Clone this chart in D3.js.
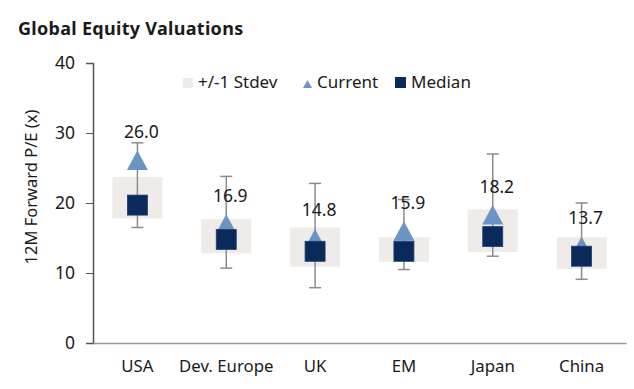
<!DOCTYPE html>
<html>
<head>
<meta charset="utf-8">
<script src="https://cdn.jsdelivr.net/npm/d3@7"></script>
<style>
  body { margin: 0; background: #fff; }
  text { font-family: "Noto Sans", "Open Sans", sans-serif; fill: #1a1a1a; }
</style>
</head>
<body>
<div class="root"></div>
<script>
// values
var categories = ['USA', 'Dev. Europe', 'UK', 'EM', 'Japan', 'China'];
var current    = [26.0, 16.9, 14.8, 15.9, 18.2, 13.7];
var median     = [19.7, 14.8, 13.1, 13.1, 15.2, 12.4];
var stdevLow   = [17.8, 12.8, 10.9, 11.6, 13.0, 10.6];
var stdevHigh  = [23.7, 17.7, 16.5, 15.1, 19.1, 15.1];
var rangeLow   = [16.5, 10.7, 7.9, 10.5, 12.4, 9.1];
var rangeHigh  = [28.6, 23.8, 22.8, 20.5, 27.0, 20.0];
var yTicks     = [0, 10, 20, 30, 40];

var w = 634, h = 389;

var rows = categories.map(function(c, i) {
  return { cat: c, cur: current[i], med: median[i], lo: stdevLow[i], hi: stdevHigh[i], min: rangeLow[i], max: rangeHigh[i] };
});

var svg = d3.select('.root').append('svg')
  .attr('width', w)
  .attr('height', h)
  .style('display', 'block');

var x = d3.scaleBand().domain(categories).range([93, 626]);
var y = d3.scaleLinear().domain([0, 40]).range([343, 63]);
var cx = function(d) { return x(d.cat) + x.bandwidth() / 2; };

// title
svg.append('text')
  .attr('x', 18).attr('y', 35)
  .style('font-weight', 'bold')
  .style('font-size', '18px')
  .style('letter-spacing', '0.3px')
  .text('Global Equity Valuations');

// axes
var yAxis = svg.append('g')
  .attr('transform', 'translate(93,0)')
  .call(d3.axisLeft(y).tickValues(yTicks).tickSize(7).tickPadding(11));
yAxis.select('.domain').attr('stroke', '#555').attr('stroke-width', 1.5);
yAxis.selectAll('.tick line').attr('stroke', '#555');
yAxis.selectAll('.tick text').style('font-size', '17.5px').attr('fill', '#1a1a1a').style('font-family', '"Noto Sans", sans-serif');

var xAxis = svg.append('g')
  .attr('transform', 'translate(0,343)')
  .call(d3.axisBottom(x).tickSize(0).tickPadding(17));
xAxis.select('.domain').attr('stroke', '#9a9a9a').attr('stroke-width', 1.5);
xAxis.selectAll('.tick text').style('font-size', '16.8px').attr('fill', '#1a1a1a').style('font-family', '"Noto Sans", sans-serif');

svg.append('text')
  .attr('transform', 'translate(37,187) rotate(-90)')
  .attr('text-anchor', 'middle')
  .style('font-size', '16.5px')
  .text('12M Forward P/E (x)');

// stdev boxes
svg.append('g').selectAll('rect')
  .data(rows).enter().append('rect')
  .attr('x', function(d) { return cx(d) - 25; })
  .attr('width', 50)
  .attr('y', function(d) { return y(d.hi); })
  .attr('height', function(d) { return y(d.lo) - y(d.hi); })
  .attr('fill', '#efebe8');

// whiskers
var wh = svg.append('g').attr('stroke', '#8c8c8c').attr('stroke-width', 1.5);
wh.selectAll('.v').data(rows).enter().append('line')
  .attr('x1', cx).attr('x2', cx)
  .attr('y1', function(d) { return y(d.max); })
  .attr('y2', function(d) { return y(d.min); });
wh.selectAll('.top').data(rows).enter().append('line')
  .attr('x1', function(d) { return cx(d) - 6; }).attr('x2', function(d) { return cx(d) + 6; })
  .attr('y1', function(d) { return y(d.max); }).attr('y2', function(d) { return y(d.max); });
wh.selectAll('.bot').data(rows).enter().append('line')
  .attr('x1', function(d) { return cx(d) - 6; }).attr('x2', function(d) { return cx(d) + 6; })
  .attr('y1', function(d) { return y(d.min); }).attr('y2', function(d) { return y(d.min); });

// current (triangle)
svg.append('g').selectAll('path')
  .data(rows).enter().append('path')
  .attr('d', 'M0,-10.5L10.5,9L-10.5,9Z')
  .attr('transform', function(d) { return 'translate(' + cx(d) + ',' + y(d.cur) + ')'; })
  .attr('fill', '#6b93c4');

// median (square)
svg.append('g').selectAll('rect')
  .data(rows).enter().append('rect')
  .attr('x', function(d) { return cx(d) - 10; })
  .attr('y', function(d) { return y(d.med) - 10; })
  .attr('width', 20).attr('height', 20)
  .attr('fill', '#0b2a5c')
  .attr('stroke', '#1f3f70').attr('stroke-width', 0.8);

// value labels
svg.append('g').selectAll('text')
  .data(rows).enter().append('text')
  .attr('x', function(d) { return cx(d) + 4; })
  .attr('y', function(d) { return y(d.cur) - 23; })
  .attr('text-anchor', 'middle')
  .style('font-size', '17.5px')
  .text(function(d) { return d.cur.toFixed(1); });

// legend
var lg = svg.append('g');
lg.append('rect').attr('x', 183).attr('y', 78).attr('width', 10).attr('height', 10).attr('fill', '#efebe8');
lg.append('text').attr('x', 198).attr('y', 88).style('font-size', '17px').text('+/-1 Stdev');
lg.append('path').attr('d', 'M307.5,80L312,88L303,88Z').attr('fill', '#6b93c4');
lg.append('text').attr('x', 317).attr('y', 88).style('font-size', '17px').text('Current');
lg.append('rect').attr('x', 395).attr('y', 77).attr('width', 11).attr('height', 11).attr('fill', '#0b2a5c');
lg.append('text').attr('x', 411).attr('y', 88).style('font-size', '17px').text('Median');
</script>
</body>
</html>
